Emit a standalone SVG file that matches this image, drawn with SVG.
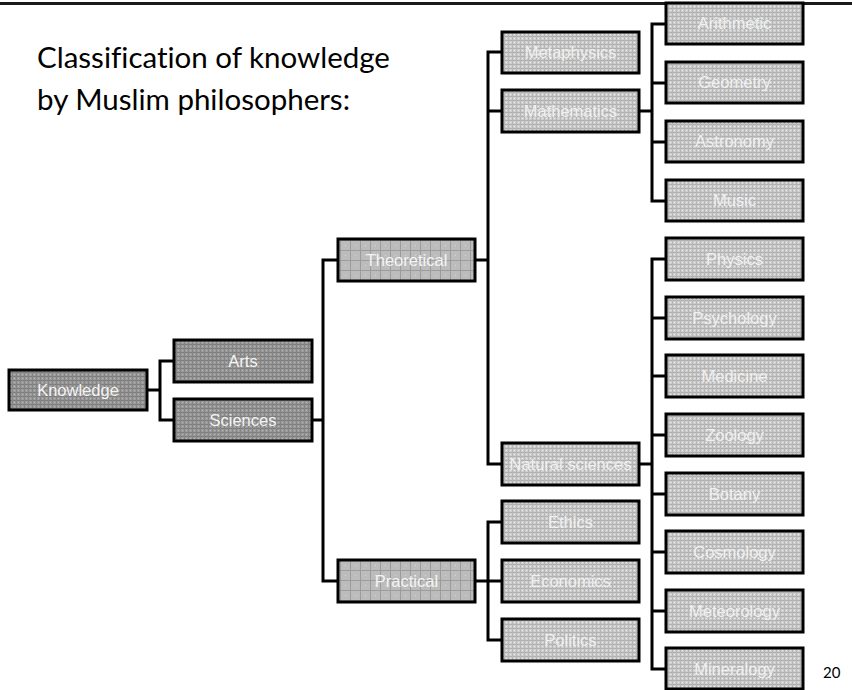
<svg xmlns="http://www.w3.org/2000/svg" width="852" height="690" viewBox="0 0 852 690">
<defs>
<pattern id="pDark" width="4" height="4" patternUnits="userSpaceOnUse">
<rect width="4" height="4" fill="#9a9a9a"/>
<rect width="4" height="1" fill="#7e7e7e"/>
<rect width="1" height="4" fill="#858585"/>
<rect x="2" y="2" width="1" height="1" fill="#b8b8b8"/>
</pattern>
<pattern id="pMed" width="10" height="10" patternUnits="userSpaceOnUse">
<rect width="10" height="10" fill="#bcbcbc"/>
<rect width="10" height="1" fill="#9c9c9c"/>
<rect width="1" height="10" fill="#9c9c9c"/>
<rect x="5" y="5" width="1" height="1" fill="#d8d8d8"/>
</pattern>
<pattern id="pLight" width="4" height="4" patternUnits="userSpaceOnUse">
<rect width="4" height="4" fill="#cdcdcd"/>
<rect width="4" height="1" fill="#b0b0b0"/>
<rect width="1" height="4" fill="#b6b6b6"/>
<rect x="2" y="2" width="1" height="1" fill="#eeeeee"/>
</pattern>
<style>
.b rect{stroke:#000;stroke-width:3}
.d rect{fill:url(#pDark)}
.m rect{fill:url(#pMed)}
.l rect{fill:url(#pLight)}
.b text{font-family:"Liberation Sans",Arial,sans-serif;font-size:16.5px;fill:#f4f4f4;text-anchor:middle}
.l text{fill:#f0f0f0}
.c path{fill:none;stroke:#000;stroke-width:3}
.t{font-family:Lato,"Open Sans",sans-serif;font-size:29.5px;fill:#000;font-variant-ligatures:none}
</style>
</defs>
<rect width="852" height="690" fill="#fff"/>
<line x1="0" y1="3.5" x2="852" y2="3.5" stroke="#1a1a1a" stroke-width="3"/>
<text class="t" x="37" y="68">Classification of knowledge</text>
<text class="t" x="37" y="110">by Muslim philosophers:</text>
<text x="823" y="678" style="font-family:Lato,'Open Sans',sans-serif;font-size:15px;fill:#000">20</text>

<g id="connectors" class="c">
<path d="M147,390 H160 M174,361 H160 V420 H174"/>
<path d="M312,420 H323 M338,260 H323 V581 H338"/>
<path d="M475,260 H488 M502,52 H488 V464 H502 M488,111 H502"/>
<path d="M475,581 H502 M502,522 H488 V640 H502"/>
<path d="M639,111 H652 M666,24 H652 V201 H666 M652,83 H666 M652,142 H666"/>
<path d="M639,464 H652 M666,259 H652 V669 H666 M652,318 H666 M652,376 H666 M652,435 H666 M652,494 H666 M652,552 H666 M652,611 H666"/>
</g>

<g id="knowledge" class="b d"><rect x="9" y="370" width="138" height="40"/><text x="78" y="396">Knowledge</text></g>
<g id="arts" class="b d"><rect x="174" y="340" width="138" height="42"/><text x="243" y="367">Arts</text></g>
<g id="sciences" class="b d"><rect x="174" y="399" width="138" height="42"/><text x="243" y="426">Sciences</text></g>

<g id="theoretical" class="b m"><rect x="338" y="239" width="137" height="42"/><text x="406.5" y="266">Theoretical</text></g>
<g id="practical" class="b m"><rect x="338" y="560" width="137" height="42"/><text x="406.5" y="587">Practical</text></g>

<g id="metaphysics" class="b l"><rect x="502" y="32" width="137" height="41"/><text x="570.5" y="58">Metaphysics</text></g>
<g id="mathematics" class="b l"><rect x="502" y="90" width="137" height="42"/><text x="570.5" y="117">Mathematics</text></g>
<g id="natural-sciences" class="b l"><rect x="502" y="443" width="137" height="42"/><text x="570.5" y="470">Natural sciences</text></g>
<g id="ethics" class="b l"><rect x="502" y="501" width="137" height="42"/><text x="570.5" y="528">Ethics</text></g>
<g id="economics" class="b l"><rect x="502" y="560" width="137" height="42"/><text x="570.5" y="587">Economics</text></g>
<g id="politics" class="b l"><rect x="502" y="619" width="137" height="42"/><text x="570.5" y="646">Politics</text></g>

<g id="arithmetic" class="b l"><rect x="666" y="3" width="137" height="41"/><text x="734.5" y="29">Arithmetic</text></g>
<g id="geometry" class="b l"><rect x="666" y="62" width="137" height="41"/><text x="734.5" y="88">Geometry</text></g>
<g id="astronomy" class="b l"><rect x="666" y="121" width="137" height="41"/><text x="734.5" y="147">Astronomy</text></g>
<g id="music" class="b l"><rect x="666" y="180" width="137" height="41"/><text x="734.5" y="206">Music</text></g>
<g id="physics" class="b l"><rect x="666" y="238" width="137" height="42"/><text x="734.5" y="265">Physics</text></g>
<g id="psychology" class="b l"><rect x="666" y="297" width="137" height="42"/><text x="734.5" y="324">Psychology</text></g>
<g id="medicine" class="b l"><rect x="666" y="355" width="137" height="42"/><text x="734.5" y="382">Medicine</text></g>
<g id="zoology" class="b l"><rect x="666" y="414" width="137" height="42"/><text x="734.5" y="441">Zoology</text></g>
<g id="botany" class="b l"><rect x="666" y="473" width="137" height="42"/><text x="734.5" y="500">Botany</text></g>
<g id="cosmology" class="b l"><rect x="666" y="531" width="137" height="42"/><text x="734.5" y="558">Cosmology</text></g>
<g id="meteorology" class="b l"><rect x="666" y="590" width="137" height="42"/><text x="734.5" y="617">Meteorology</text></g>
<g id="mineralogy" class="b l"><rect x="666" y="648" width="137" height="41"/><text x="734.5" y="675">Mineralogy</text></g>
</svg>
